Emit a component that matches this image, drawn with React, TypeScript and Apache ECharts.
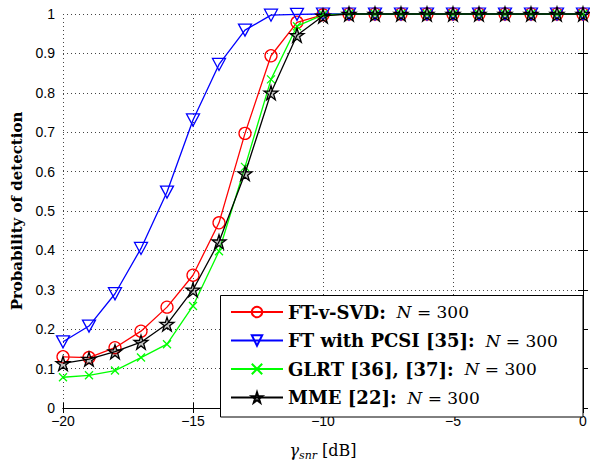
import React, { useEffect, useRef } from 'react';
import * as echarts from 'echarts';

const snrDb = [-20, -19, -18, -17, -16, -15, -14, -13, -12, -11, -10, -9, -8, -7, -6, -5, -4, -3, -2, -1, 0];
const ftvSvd = [0.13, 0.128, 0.153, 0.195, 0.256, 0.337, 0.47, 0.697, 0.894, 0.979, 0.998, 1, 1, 1, 1, 1, 1, 1, 1, 1, 1];
const ftPcsi = [0.168, 0.208, 0.29, 0.405, 0.548, 0.731, 0.872, 0.959, 0.997, 0.999, 1, 1, 1, 1, 1, 1, 1, 1, 1, 1, 1];
const glrt = [0.078, 0.083, 0.095, 0.128, 0.162, 0.259, 0.398, 0.612, 0.834, 0.969, 0.998, 1, 1, 1, 1, 1, 1, 1, 1, 1, 1];
const mme = [0.113, 0.124, 0.143, 0.167, 0.213, 0.3, 0.422, 0.595, 0.8, 0.946, 0.995, 1, 1, 1, 1, 1, 1, 1, 1, 1, 1];

const seriesNames = ['FT-v-SVD', 'FT with PCSI [35]', 'GLRT [36], [37]', 'MME [22]'];
const xTicks = { min: -20, max: 0, interval: 5 };
const yTicks = { min: 0, max: 1, interval: 0.1 };

const STAR = 'path://M50,2 L61,36 L97,36 L68,57 L79,92 L50,71 L21,92 L32,57 L3,36 L39,36 Z';
const TRI_DOWN = 'path://M0,0 L20,0 L10,18 Z';
const CROSS = 'path://M0,0 L10,10 M10,0 L0,10';

export default function App() {
  const ref = useRef<HTMLDivElement>(null);
  useEffect(() => {
    if (!ref.current) return;
    const chart = echarts.init(ref.current, undefined, { renderer: 'svg' });
    const mk = (vals: number[]) => snrDb.map((x, i) => [x, vals[i]]);
    const frameAxis = {
      axisLine: { show: true, lineStyle: { color: '#000', width: 1 } },
      axisTick: { show: true, inside: true, length: 5, lineStyle: { color: '#000' } },
    };
    const option: any = {
      animation: false,
      backgroundColor: '#fff',
      grid: { left: 63, right: 7, top: 14, bottom: 49 },
      xAxis: [
        {
          type: 'value', ...xTicks, position: 'bottom',
          ...frameAxis,
          axisLabel: {
            color: '#000', fontFamily: 'Liberation Sans, Arial', fontSize: 14, margin: 6,
            formatter: (v: number) => (v < 0 ? '\u2212' + Math.abs(v) : String(v)),
          },
          splitLine: { show: true, lineStyle: { color: '#444', type: [1, 3], width: 1 } },
          name: '{g|γ}{s|snr}{d| [dB]}',
          nameLocation: 'middle', nameGap: 31,
          nameTextStyle: {
            rich: {
              g: { fontFamily: 'DejaVu Serif', fontStyle: 'italic', fontSize: 16, color: '#000', lineHeight: 22, verticalAlign: 'middle' },
              s: { fontFamily: 'DejaVu Serif', fontStyle: 'italic', fontSize: 11, color: '#000', lineHeight: 22, verticalAlign: 'bottom' },
              d: { fontFamily: 'DejaVu Serif', fontSize: 16, color: '#000', lineHeight: 22, verticalAlign: 'middle' },
            },
          },
        },
        {
          type: 'value', ...xTicks, position: 'top', ...frameAxis,
          axisLabel: { show: false }, splitLine: { show: false },
        },
      ],
      yAxis: [
        {
          type: 'value', ...yTicks, position: 'left',
          ...frameAxis,
          axisLabel: {
            color: '#000', fontFamily: 'Liberation Sans, Arial', fontSize: 14, margin: 8,
            formatter: (v: number) => String(Math.round(v * 10) / 10),
          },
          splitLine: { show: true, lineStyle: { color: '#444', type: [1, 3], width: 1 } },
          name: 'Probability of detection',
          nameLocation: 'middle', nameGap: 39,
          nameTextStyle: { fontFamily: 'DejaVu Serif', fontWeight: 'bold', fontSize: 15, color: '#000' },
        },
        {
          type: 'value', ...yTicks, position: 'right', ...frameAxis,
          axisLabel: { show: false }, splitLine: { show: false },
        },
      ],
      legend: {
        show: true, orient: 'vertical', left: 225, top: 298, z: 60,
        itemWidth: 52, itemHeight: 13, itemGap: 10.5,
        data: seriesNames,
        formatter: (name: string) => `{b|${name}:}{i|  N}{r| = 300}`,
        textStyle: {
          rich: {
            b: { fontFamily: 'DejaVu Serif', fontWeight: 'bold', fontSize: 18, color: '#000', lineHeight: 20 },
            i: { fontFamily: 'DejaVu Serif', fontStyle: 'italic', fontSize: 17, color: '#000', lineHeight: 20 },
            r: { fontFamily: 'DejaVu Serif', fontSize: 17, color: '#000', lineHeight: 20 },
          },
        },
      },
      graphic: [
        {
          type: 'rect', z: 50, zlevel: 0,
          shape: { x: 220.5, y: 295.5, width: 362.5, height: 121.5 },
          style: { fill: '#fff', stroke: '#000', lineWidth: 1 },
        },
      ],
      series: [
        {
          name: seriesNames[0], type: 'line', data: mk(ftvSvd), clip: false,
          symbol: 'circle', symbolSize: 12,
          itemStyle: { color: 'transparent', borderColor: '#ff0000', borderWidth: 1.3 },
          lineStyle: { color: '#ff0000', width: 1.3 },
          z: 2,
        },
        {
          name: seriesNames[1], type: 'line', data: mk(ftPcsi), clip: false,
          symbol: TRI_DOWN, symbolSize: [13, 12],
          itemStyle: { color: 'transparent', borderColor: '#0000ff', borderWidth: 1.3 },
          lineStyle: { color: '#0000ff', width: 1.3 },
          z: 3,
        },
        {
          name: seriesNames[2], type: 'line', data: mk(glrt), clip: false,
          symbol: CROSS, symbolSize: 8,
          itemStyle: { color: 'transparent', borderColor: '#00ff00', borderWidth: 1.3 },
          lineStyle: { color: '#00ff00', width: 1.3 },
          z: 4,
        },
        {
          name: seriesNames[3], type: 'line', data: mk(mme), clip: false,
          symbol: STAR, symbolSize: 14,
          itemStyle: { color: 'rgba(0,0,0,0.25)', borderColor: '#000', borderWidth: 1.3 },
          lineStyle: { color: '#000', width: 1.3 },
          z: 5,
        },
      ],
    };
    chart.setOption(option);
    return () => chart.dispose();
  }, []);
  return <div ref={ref} style={{ position: 'fixed', left: 0, top: 0, width: 590, height: 466 }} />;
}
